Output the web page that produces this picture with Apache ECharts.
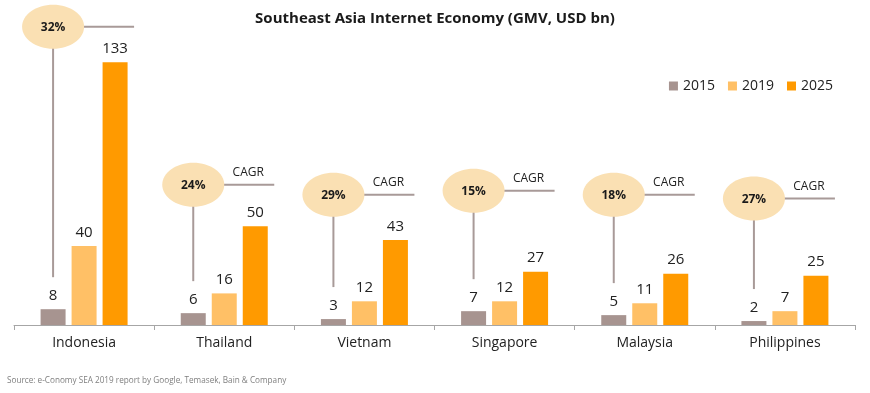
<!DOCTYPE html>
<html>
<head>
<meta charset="utf-8">
<script src="https://cdn.jsdelivr.net/npm/echarts@6/dist/echarts.min.js"></script>
<style>
html,body{margin:0;padding:0;background:#fff;}
#chart{width:870px;height:393px;}
</style>
</head>
<body>
<div id="chart"></div>
<script>
// ---- data ----
var countries = ['Indonesia', 'Thailand', 'Vietnam', 'Singapore', 'Malaysia', 'Philippines'];
var years = ['2015', '2019', '2025'];
var gmv2015 = [8, 6, 3, 7, 5, 2];
var gmv2019 = [40, 16, 12, 12, 11, 7];
var gmv2025 = [133, 50, 43, 27, 26, 25];
var cagr = ['32%', '24%', '29%', '15%', '18%', '27%'];
var cagrTag = ['', 'CAGR', 'CAGR', 'CAGR', 'CAGR', 'CAGR'];
// vertical level (in value-axis units) at which each CAGR bubble sits
var cagrLevel = [151, 71, 66, 68, 66, 64];
var sourceText = 'Source: e-Conomy SEA 2019 report by Google, Temasek, Bain & Company';

// ---- styles ----
var FONT = '"Open Sans", "Liberation Sans", sans-serif';
var colors = ['#A79490', '#FFC066', '#FF9A00'];
var BAR_W = 25, BAR_GAP = 6;

var chart = echarts.init(document.getElementById('chart'));

var bubbleData = countries.map(function (c, i) {
  return [i, cagrLevel[i], gmv2015[i]];
});

function renderBubble(params, api) {
  var i = api.value(0);
  var p = api.coord([i, api.value(1)]);
  var barTop = api.coord([i, api.value(2)])[1];
  var cx = p[0] - (BAR_W + BAR_GAP);
  var cy = p[1];
  var rx = 31, ry = 22;
  var lineStyle = { stroke: '#A89A98', lineWidth: 2 };
  var children = [
    { type: 'line', shape: { x1: cx, y1: cy + ry - 2, x2: cx, y2: barTop - 32 }, style: lineStyle },
    { type: 'line', shape: { x1: cx + rx - 2, y1: cy, x2: cx + 81, y2: cy }, style: lineStyle },
    { type: 'ellipse', shape: { cx: cx, cy: cy, rx: rx, ry: ry }, style: { fill: '#FAE0B3' } },
    { type: 'text', x: cx, y: cy + 1, style: { text: cagr[i], fill: '#1a1a1a', font: 'bold 12px ' + FONT, textAlign: 'center', textVerticalAlign: 'middle' } }
  ];
  if (cagrTag[i]) {
    children.push({ type: 'text', x: cx + 55, y: cy - 12, style: { text: cagrTag[i], fill: '#222', font: '12px ' + FONT, textAlign: 'center', textVerticalAlign: 'middle' } });
  }
  return { type: 'group', children: children };
}

var labelCfg = { show: true, position: 'top', distance: 6, color: '#222', fontSize: 15, fontFamily: FONT };

chart.setOption({
  animation: false,
  backgroundColor: '#fff',
  title: {
    text: 'Southeast Asia Internet Economy (GMV, USD bn)',
    left: 'center', top: 6,
    textStyle: { fontFamily: FONT, fontSize: 15, fontWeight: 'bold', color: '#1a1a1a' }
  },
  legend: {
    data: years,
    right: 32, top: 74,
    itemWidth: 9, itemHeight: 9, itemGap: 13,
    icon: 'rect',
    textStyle: { fontFamily: FONT, fontSize: 14, color: '#222' }
  },
  graphic: [{
    type: 'text', left: 7, top: 377,
    style: { text: sourceText, fill: '#7f7f7f', font: '8.2px ' + FONT }
  }],
  grid: { left: 14, right: 15, top: 9, bottom: 68, containLabel: false },
  xAxis: {
    type: 'category',
    data: countries,
    axisLine: { lineStyle: { color: '#A6A6A6', width: 1 } },
    axisTick: { show: true, length: 5, lineStyle: { color: '#A6A6A6' } },
    axisLabel: { fontFamily: FONT, fontSize: 14, color: '#222', margin: 11 }
  },
  yAxis: {
    type: 'value', min: 0, max: 160, show: false,
    splitLine: { show: false }
  },
  series: [
    { name: years[0], type: 'bar', data: gmv2015, barWidth: BAR_W, barGap: (BAR_GAP / BAR_W * 100) + '%', itemStyle: { color: colors[0] }, label: labelCfg },
    { name: years[1], type: 'bar', data: gmv2019, barWidth: BAR_W, barGap: (BAR_GAP / BAR_W * 100) + '%', itemStyle: { color: colors[1] }, label: labelCfg },
    { name: years[2], type: 'bar', data: gmv2025, barWidth: BAR_W, barGap: (BAR_GAP / BAR_W * 100) + '%', itemStyle: { color: colors[2] }, label: labelCfg },
    { name: 'cagr', type: 'custom', data: bubbleData, renderItem: renderBubble, clip: false, z: 5, silent: true, encode: { x: 0, y: 1 } }
  ]
});
</script>
</body>
</html>
